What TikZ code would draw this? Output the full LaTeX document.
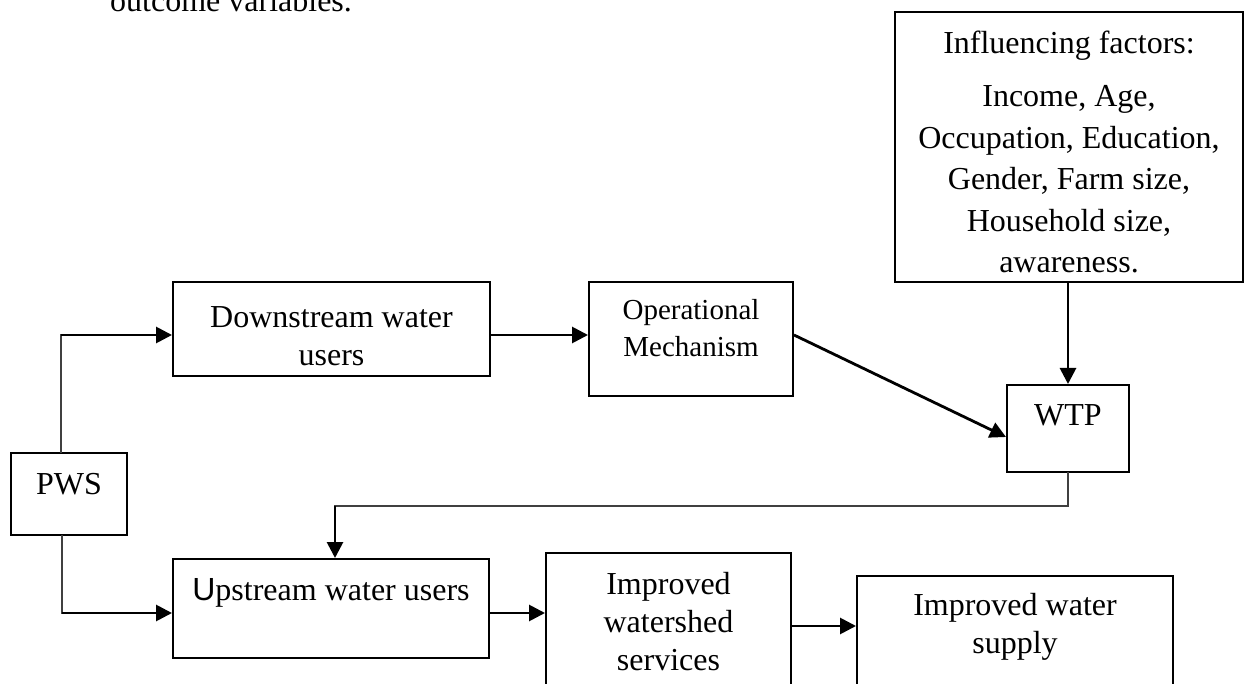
\documentclass[tikz,border=0pt]{standalone}
\usepackage{fontspec}
\setmainfont{Liberation Serif}
\newfontfamily\sansU{Liberation Sans}
\usetikzlibrary{arrows.meta,calc}
\newcommand{\bxc}[4]{\parbox[c][#2pt][t]{#1pt}{\centering\vspace*{#3pt}\strut #4\par}}
\begin{document}
\begin{tikzpicture}[x=1pt,y=-1pt,
  box/.style={draw, line width=2pt, inner sep=0pt, rectangle, font=\fontsize{32}{38}\selectfont},
  arr/.style={line width=2.8pt, -{Triangle[length=16pt,width=16pt]}},
  thinline/.style={line width=1.6pt, draw=black!75, line cap=rect}]
\useasboundingbox (0,0) rectangle (1248,684);
\clip (0,0) rectangle (1248,684);
\node[anchor=base west, inner sep=0pt, font=\fontsize{32}{38}\selectfont] (outc) at (110,12) {outcome variables.};
\node[box, font=\fontsize{32}{41.5}\selectfont] (infl) at (1069,147) {\bxc{348}{270}{12.95}{Influencing factors:\\[11.5pt]Income, Age,\\Occupation, Education,\\Gender, Farm size,\\Household size,\\awareness.}};
\node[box] (wtp) at (1068,428.5) {\bxc{122}{87}{13.9}{WTP}};
\node[box, font=\fontsize{29}{37}\selectfont] (op) at (691,339) {\bxc{204}{114}{12.1}{Operational\\Mechanism}};
\node[box] (down) at (331.5,329) {\bxc{317}{94}{19.4}{Downstream water\\users}};
\node[box] (pws) at (69,494) {\bxc{116}{82}{14.4}{PWS}};
\node[box] (up) at (331,608.5) {\bxc{316}{99}{14.4}{{\sansU U}pstream water users}};
\node[box] (iw) at (668.5,626.5) {\bxc{245}{147}{14.4}{Improved\\watershed\\services}};
\node[box] (iws) at (1015,638) {\bxc{316}{124}{12.4}{Improved water\\supply}};
\coordinate (j1) at (61,335);
\coordinate (j2) at (335,506);
\coordinate (j3) at (1007,437);
\coordinate (j4) at (62,613);
\coordinate (j5) at (800,626);
\draw[thinline] (pws.north -| j1) -- (j1);
\draw[arr] (j1) -- (j1 -| down.west);
\draw[arr] (down.east |- j1) -- (op.west |- j1);
\draw[arr] (op.east |- j1) -- (wtp.west |- j3);
\draw[arr] (wtp.north |- infl.south) -- (wtp.north);
\draw[thinline] (wtp.south) |- (j2);
\draw[arr] (j2) -- (j2 |- up.north);
\draw[thinline] (pws.south -| j4) -- (j4);
\draw[arr] (j4) -- (j4 -| up.west);
\draw[arr] (up.east |- j4) -- (iw.west |- j4);
\draw[arr] (iw.east |- j5) -- (iws.west |- j5);
\end{tikzpicture}
\end{document}
